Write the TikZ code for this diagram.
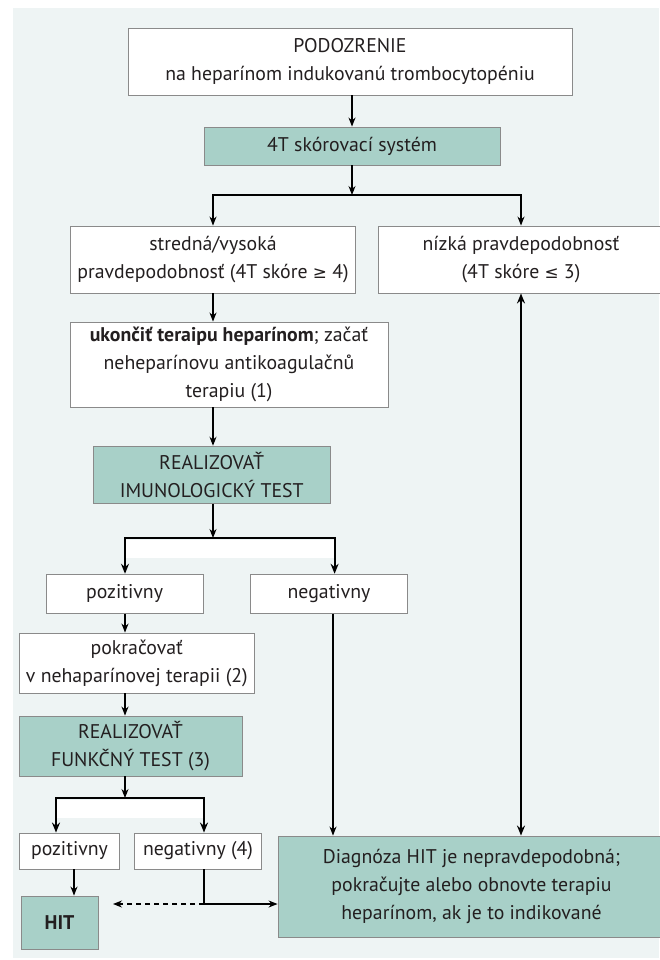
\documentclass[tikz,border=0pt]{standalone}
\usepackage{fontspec}
\setmainfont{PT Sans}
\newfontfamily\symf{DejaVu Sans}[Scale=0.85]
\usetikzlibrary{arrows.meta}
\definecolor{bgc}{HTML}{EEF4F4}
\definecolor{tealbox}{HTML}{A8D0C8}
\definecolor{bordc}{HTML}{8A8A8A}
\definecolor{txt}{HTML}{231F20}
\begin{document}
\begin{tikzpicture}[x=1pt,y=-1pt,
  box/.style={draw=bordc, line width=0.9pt, fill=white, inner sep=0pt, align=center,
    font=\fontsize{19.8}{28}\selectfont, text=txt},
  gbox/.style={box, fill=tealbox},
  arr/.style={-{Stealth[length=9pt,width=7pt]}, line width=1.1pt, draw=black},
  tarr/.style={-{Stealth[length=10pt,width=8pt]}, line width=2.2pt, draw=black},
]
\useasboundingbox (0,0) rectangle (659,960);
\fill[bgc] (12.5,8.5) rectangle (659,958);

% nodes
\node[box, minimum width=444pt, minimum height=67pt] (pod) at (350,61.5)
  {PODOZRENIE\\na heparínom indukovanú trombocytopéniu};
\node[gbox, minimum width=296pt, minimum height=38pt] (t4) at (352,146)
  {4T skórovací systém};
\node[box, minimum width=285pt, minimum height=67pt] (mid) at (213,259.5)
  {stredná/vysoká\\pravdepodobnosť (4T skóre {\symf ≥} 4)};
\node[box, minimum width=286pt, minimum height=67pt] (low) at (521,259.5)
  {nízká pravdepodobnosť\\(4T skóre {\symf ≤} 3)};
\node[box, minimum width=318pt, minimum height=85pt] (stop) at (229,364.5)
  {\textbf{ukončiť teraipu heparínom}; začať\\neheparínovu antikoagulačnů\\terapiu (1)};
\node[gbox, minimum width=237pt, minimum height=57pt] (imu) at (211.7,474.7)
  {REALIZOVAŤ\\IMUNOLOGICKÝ TEST};
\node[box, minimum width=157pt, minimum height=39pt] (pos1) at (124.6,593.7) {pozitivny};
\node[box, minimum width=157pt, minimum height=39pt] (neg1) at (329,593.7) {negativny};
\node[box, minimum width=235pt, minimum height=60pt] (pok) at (136.8,663)
  {pokračovať\\v nehaparínovej terapii (2)};
\node[gbox, minimum width=223pt, minimum height=60pt] (fun) at (130.5,746)
  {REALIZOVAŤ\\FUNKČNÝ TEST (3)};
\node[box, minimum width=100.5pt, minimum height=36pt] (pos2) at (69.5,851) {pozitivny};
\node[box, minimum width=127.5pt, minimum height=36pt] (neg2) at (198,851) {negativny (4)};
\node[gbox, minimum width=77pt, minimum height=53pt] (hit) at (59.5,922.5) {\textbf{HIT}};
\node[gbox, minimum width=387pt, minimum height=101pt] (diag) at (471.5,886.5)
  {Diagnóza HIT je nepravdepodobná;\\pokračujte alebo obnovte terapiu\\heparínom, ak je to indikované};

% coordinates
\coordinate (j1) at (352,195);
\coordinate (b1l) at (213,195);
\coordinate (b1r) at (521,195);
\coordinate (j2) at (213,538);
\coordinate (b2l) at (125,538);
\coordinate (b2r) at (334.6,538);
\coordinate (j3) at (125,798);
\coordinate (b3l) at (56,798);
\coordinate (b3r) at (204,798);
\coordinate (n1x) at (333,0);
\coordinate (x74) at (74,0);
\coordinate (k) at (204,904);
\coordinate (dend) at (113,904);

% white bands
\fill[white] (125,539.5) rectangle (334.6,558);
\fill[white] (56,799.5) rectangle (204,818);

% connectors
\draw[arr] (pod.south -| t4.north) -- (t4.north);
\draw[arr] (t4.south) -- (j1);
\draw[arr] (j1) -| (b1l |- mid.north);
\draw[arr] (j1) -| (b1r |- low.north);
\draw[arr] (b1l |- mid.south) -- (b1l |- stop.north);
\draw[arr] (b1l |- stop.south) -- (b1l |- imu.north);
\draw[arr] (j2 |- imu.south) -- (j2);
\draw[tarr] (j2) -| (b2l |- pos1.north);
\draw[tarr] (j2) -| (b2r |- neg1.north);
\draw[arr] (b2l |- pos1.south) -- (b2l |- pok.north);
\draw[arr] (b2l |- pok.south) -- (b2l |- fun.north);
\draw[arr] (j3 |- fun.south) -- (j3);
\draw[tarr] (j3) -| (b3l |- pos2.north);
\draw[tarr] (j3) -| (b3r |- neg2.north);
\draw[arr] (x74 |- pos2.south) -- (x74 |- hit.north);
\draw[arr] (b3r |- neg2.south) |- (k -| diag.west);
\draw[arr, dashed, dash pattern=on 5pt off 4pt] (k) -- (dend);
\draw[arr] (n1x |- neg1.south) -- (n1x |- diag.north);
\draw[tarr, {Stealth[length=10pt,width=8pt]}-{Stealth[length=10pt,width=8pt]}] (low.south) -- (low.south |- diag.north);
\end{tikzpicture}
\end{document}
